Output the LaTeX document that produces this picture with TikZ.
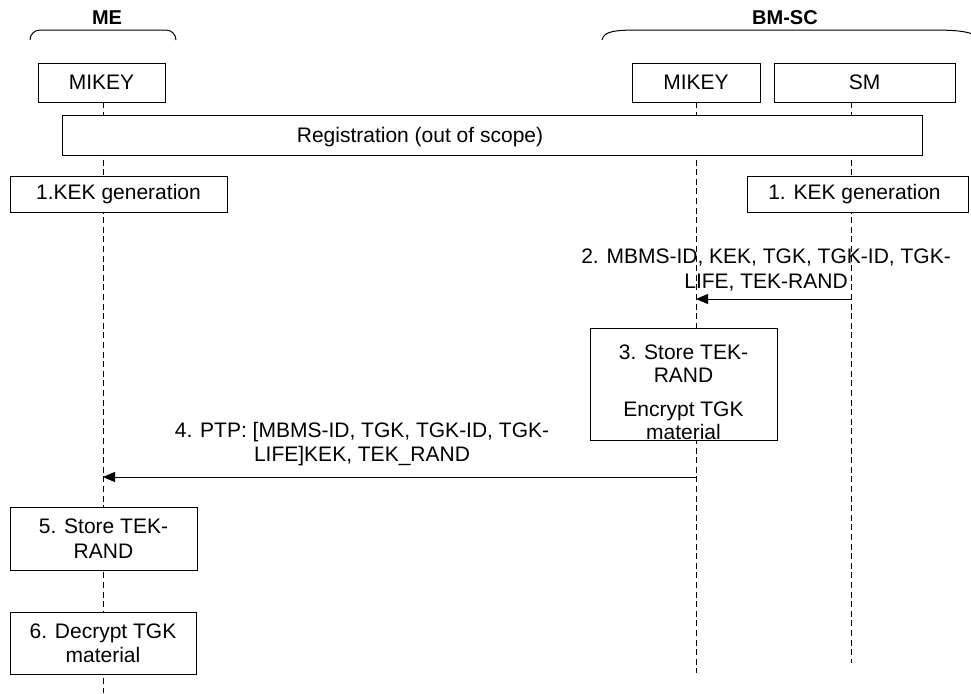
\documentclass[tikz,border=0pt]{standalone}
\usepackage{fontspec}
\setmainfont{Liberation Sans}
\usepackage{tikz}
\usetikzlibrary{positioning, arrows.meta, backgrounds}

\begin{document}
\begin{tikzpicture}[x=0.5pt,y=-0.5pt,font=\fontsize{10.5}{12.2}\selectfont]
  \tikzset{box/.style={draw,fill=white,line width=0.5pt,inner sep=0pt,align=center},
    entity/.style={box,minimum height=19.5pt},
    lifeline/.style={line width=0.5pt,dash pattern=on 3pt off 1.8pt},
    msgarrow/.style={line width=0.5pt,-{Triangle[length=6pt,width=5pt]}},
    brace/.style={line width=0.5pt},
    grouplabel/.style={font=\fontsize{10}{12}\selectfont\bfseries}}
  \useasboundingbox (0,0) rectangle (971,693);
  % groups
  \node[grouplabel] (meLabel) at (107,18) {ME};
  \node[grouplabel] (bmLabel) at (785,18) {BM-SC};
  \draw[brace,rounded corners=5pt] (30,40) -- (30,30) -- (176,30) -- (176,40);
  \draw[brace] (602,40) .. controls (604,31) and (615,30) .. (640,30) -- (930,30) .. controls (955,30) and (966,31) .. (975,35);
  % entities
  \node[entity,minimum width=63.5pt] (meMikey) at (101.5,82.5) {MIKEY};
  \node[entity,minimum width=64pt] (bmMikey) at (696,82.5) {MIKEY};
  \node[entity,minimum width=90.5pt] (sm) at (864.5,82.5) {SM};
  \coordinate (meTop) at (103,102);
  \coordinate (meEnd) at (103,693);
  \coordinate (bmTop) at (696,102);
  \coordinate (bmEnd) at (696,673);
  \coordinate (smTop) at (851,102);
  \coordinate (smEnd) at (851,663);
  % boxes
  \node[box,minimum width=430pt,minimum height=20pt,label={[xshift=-36pt,yshift=-1pt]center:Registration (out of scope)}] (reg) at (492,135) {};
  \node[box,minimum width=108.5pt,minimum height=18pt] (kekMe) at (118.5,194) {1.KEK generation};
  \node[box,minimum width=110.5pt,minimum height=18pt] (kekBm) at (857.5,194) {\hspace*{-3pt}1. KEK generation};
  \node[box,minimum width=93.5pt,minimum height=56pt,font=\fontsize{10.5}{11.2}\selectfont] (store3) at (683.5,384) {\rule{0pt}{15.5pt}3. Store TEK-\\RAND\\[6pt]Encrypt TGK\\material};
  \node[box,minimum width=93.5pt,minimum height=31.5pt] (store5) at (103.5,538.5) {5. Store TEK-\\RAND};
  \node[box,minimum width=93pt,minimum height=31pt] (decrypt6) at (103,643) {6. Decrypt TGK\\material};
  % lifelines
  \begin{scope}[on background layer]
    \draw[lifeline] (meTop) -- (meEnd);
    \draw[lifeline] (bmTop) -- (bmEnd);
    \draw[lifeline] (smTop) -- (smEnd);
  \end{scope}
  % messages
  \coordinate (m2From) at (851,299);
  \coordinate (m2To) at (696,299);
  \draw[msgarrow] (m2From) -- (m2To);
  \node[align=center,font=\fontsize{10.5}{12.8}\selectfont] (msg2) at (766,270) {2. MBMS-ID, KEK, TGK, TGK-ID, TGK-\\LIFE, TEK-RAND};
  \coordinate (m4From) at (696,477);
  \coordinate (m4To) at (103,477);
  \draw[msgarrow] (m4From) -- (m4To);
  \node[align=center] (msg4) at (362,444) {4. PTP: [MBMS-ID, TGK, TGK-ID, TGK-\\LIFE]KEK, TEK\_RAND};
\end{tikzpicture}
\end{document}
